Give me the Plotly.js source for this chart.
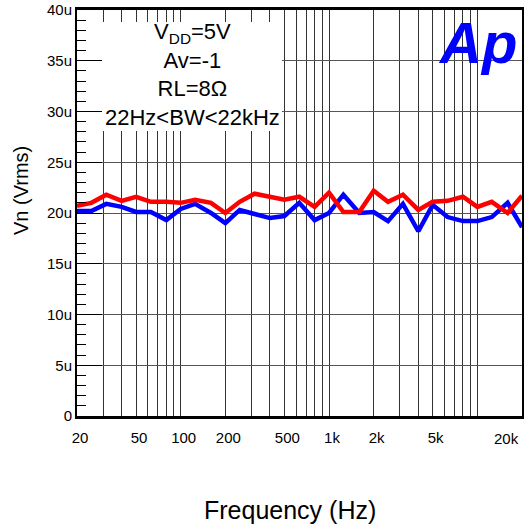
<!DOCTYPE html>
<html>
<head>
<meta charset="utf-8">
<script src="https://cdn.plot.ly/plotly-3.0.1.min.js"></script>
<style>html,body{margin:0;padding:0;background:#fff;}#chart{width:525px;height:527px;}</style>
</head>
<body>
<div id="chart"></div>
<script>
// 1/3-octave frequencies (Hz)
var freqHz = [20,25,31.5,40,50,63,80,100,125,160,200,250,315,400,500,630,800,1000,1250,1600,2000,2500,3150,4000,5000,6300,8000,10000,12500,16000,20000];
// Noise voltage, microvolts rms
var redVn_uV  = [20.7,21.0,21.8,21.2,21.6,21.1,21.1,21.0,21.3,21.0,20.0,21.1,21.9,21.6,21.3,21.6,20.6,22.0,20.1,20.1,22.2,21.1,21.8,20.3,21.1,21.2,21.6,20.6,21.1,20.0,21.7];
var blueVn_uV = [20.2,20.2,20.9,20.6,20.1,20.1,19.3,20.4,20.9,20.0,19.0,20.3,19.9,19.5,19.7,21.0,19.3,20.0,21.8,20.0,20.1,19.2,20.9,18.2,20.8,19.6,19.2,19.2,19.6,21.0,18.6];

var xGridVals = [20,30,40,50,60,70,80,90,100,200,300,400,500,600,700,800,900,1000,2000,3000,4000,5000,6000,7000,8000,9000,10000,20000];
var xGridText = ['20','','','50','','','','','100','200','','','500','','','','','1k','2k','','','5k','','','','','',''];
var yTickVals = [0,5,10,15,20,25,30,35,40];
var yTickText = ['0','5u','10u','15u','20u','25u','30u','35u','40u'];

var font = 'Liberation Sans, Arial, Helvetica, sans-serif';

var traces = [
  {x: freqHz, y: blueVn_uV, type:'scatter', mode:'lines', line:{color:'#0000FF', width:4.5}, hoverinfo:'skip'},
  {x: freqHz, y: redVn_uV, type:'scatter', mode:'lines', line:{color:'#FF0000', width:4.5}, hoverinfo:'skip'}
];

var layout = {
  width:525, height:527,
  margin:{l:77, r:3, t:10, b:111},
  paper_bgcolor:'#fff', plot_bgcolor:'#fff',
  showlegend:false,
  font:{family:font, color:'#000'},
  xaxis:{
    type:'log', range:[Math.log10(20), Math.log10(20000)],
    tickmode:'array', tickvals:xGridVals, ticktext:xGridText,
    ticks:'', showgrid:true, gridcolor:'#333', gridwidth:1,
    showline:true, linecolor:'#000', linewidth:3, mirror:true,
    tickfont:{size:15, family:font}, ticklabelshift:3, ticklabelstandoff:6,
    zeroline:false, fixedrange:true
  },
  yaxis:{
    range:[0,40],
    tickmode:'array', tickvals:yTickVals, ticktext:yTickText,
    ticks:'inside', ticklen:25, tickcolor:'#000', tickwidth:1,
    minor:{tickmode:'linear', tick0:0, dtick:1, ticks:'inside', ticklen:9, tickcolor:'#000', tickwidth:1, showgrid:false},
    showgrid:true, gridcolor:'#555', gridwidth:1,
    showline:true, linecolor:'#000', linewidth:2, mirror:true,
    tickfont:{size:15, family:font}, ticklabelstandoff:0,
    zeroline:false, fixedrange:true
  },
  shapes:[
    {type:'rect', xref:'paper', yref:'paper', x0:(102-77)/445, x1:(282-77)/445, y0:(416-131)/406, y1:(416-22)/406,
     fillcolor:'#fff', line:{width:0}, layer:'above'}
  ],
  annotations:[
    {xref:'paper', yref:'paper', x:(192-77)/445, y:(416-75)/406, xanchor:'center', yanchor:'middle',
     text:'V<sub>DD</sub>=5V<br>Av=-1<br>RL=8Ω<br>22Hz&lt;BW&lt;22kHz', showarrow:false,
     font:{size:22, family:font, color:'#000'}, align:'center'},
    {xref:'paper', yref:'paper', x:1, xshift:-1, y:0, yshift:-12, xanchor:'right', yanchor:'top',
     text:'20k', showarrow:false, font:{size:15, family:font, color:'#000'}},
    {xref:'paper', yref:'paper', x:1, xshift:-3, y:1, yshift:2, xanchor:'right', yanchor:'top',
     text:'<b><i>Ap</i></b>', showarrow:false,
     font:{size:58, family:font, color:'#0000FF'}},
    {xref:'paper', yref:'paper', x:-56/445, xanchor:'center', y:(416-191)/406, yanchor:'middle', textangle:-90,
     text:'Vn (Vrms)', showarrow:false, font:{size:20, family:font, color:'#000'}},
    {xref:'paper', yref:'paper', x:(290-77)/445, xanchor:'center', y:0, yshift:-94, yanchor:'middle',
     text:'Frequency (Hz)', showarrow:false, font:{size:25, family:font, color:'#000'}}
  ]
};

Plotly.newPlot('chart', traces, layout, {staticPlot:true, displayModeBar:false});
</script>
</body>
</html>
